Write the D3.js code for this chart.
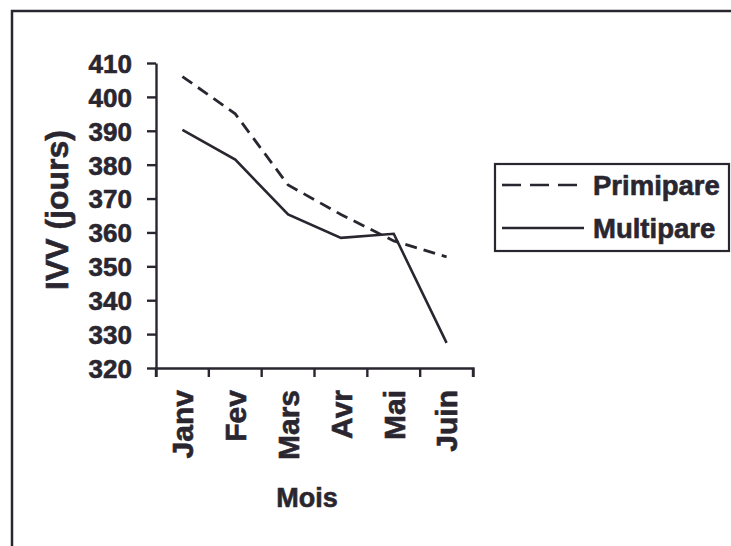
<!DOCTYPE html>
<html><head><meta charset="utf-8">
<script src="https://cdn.jsdelivr.net/npm/d3@7"></script>
<style>body{margin:0;background:#fff}svg{display:block}text{font-family:"Liberation Sans",Arial,sans-serif;font-weight:bold;fill:#2a2630;stroke:#2a2630;stroke-width:0.6px}</style>
</head><body>
<script>
const months = ["Janv","Fev","Mars","Avr","Mai","Juin"];
const primipare = [406, 395, 374, 365.3, 357.5, 352.8];
const multipare = [390.3, 381.5, 365.3, 358.4, 359.6, 327.4];
const yTicks = [320,330,340,350,360,370,380,390,400,410];
const seriesNames = ["Primipare","Multipare"];

const W=731,H=546, ink="#2a2630";
const svg=d3.select("body").append("svg").attr("width",W).attr("height",H);
svg.append("rect").attr("x",12).attr("y",11).attr("width",W).attr("height",H)
  .attr("fill","none").attr("stroke",ink).attr("stroke-width",2.5);

const x=d3.scaleBand().domain(months).range([156,473]);
const y=d3.scaleLinear().domain([320,410]).range([368,63]);

const yAx=svg.append("g").attr("transform","translate(156,0)")
  .call(d3.axisLeft(y).tickValues(yTicks).tickSize(9).tickSizeOuter(0).tickPadding(15));
yAx.selectAll("text").style("font-size","26px").attr("dy","0.36em");
const xAx=svg.append("g").attr("transform","translate(0,368)")
  .call(d3.axisBottom(x).tickSize(9).tickSizeOuter(9));
xAx.selectAll(".tick line").remove();
const bounds=months.map(m=>x(m)).concat([x.range()[1]]);
xAx.selectAll(".bt").data(bounds).enter().append("line").attr("class","bt")
  .attr("x1",d=>d).attr("x2",d=>d).attr("y1",0).attr("y2",9);
xAx.selectAll(".tick text").attr("transform","rotate(-90)").attr("text-anchor","end")
  .attr("x",-22).attr("y",0).attr("dy","0.36em").style("font-size","30px");
svg.selectAll(".domain,.tick line,.bt").attr("stroke",ink).attr("stroke-width",2.4);
svg.selectAll("g text").attr("fill",ink);

const line=d3.line().x((d,i)=>x(months[i])+x.bandwidth()/2).y(d=>y(d));
svg.append("path").datum(primipare).attr("d",line).attr("fill","none")
  .attr("stroke",ink).attr("stroke-width",2.8).attr("stroke-dasharray","12,7");
svg.append("path").datum(multipare).attr("d",line).attr("fill","none")
  .attr("stroke",ink).attr("stroke-width",2.6);

svg.append("text").attr("transform","translate(68,210) rotate(-90)").attr("text-anchor","middle")
  .style("font-size","32px").text("IVV (jours)");
svg.append("text").attr("x",307).attr("y",507).attr("text-anchor","middle")
  .style("font-size","27px").text("Mois");

const lg=svg.append("g");
lg.append("rect").attr("x",495).attr("y",164).attr("width",234).attr("height",87)
  .attr("fill","none").attr("stroke",ink).attr("stroke-width",2.2);
const dashes=["19,9",null];
seriesNames.forEach((n,i)=>{
  const yy=185+i*43;
  lg.append("line").attr("x1",502).attr("x2",584).attr("y1",yy).attr("y2",yy)
    .attr("stroke",ink).attr("stroke-width",2.6).attr("stroke-dasharray",dashes[i]);
  lg.append("text").attr("x",593).attr("y",yy+10).style("font-size","27.5px").text(n);
});
</script>
</body></html>
